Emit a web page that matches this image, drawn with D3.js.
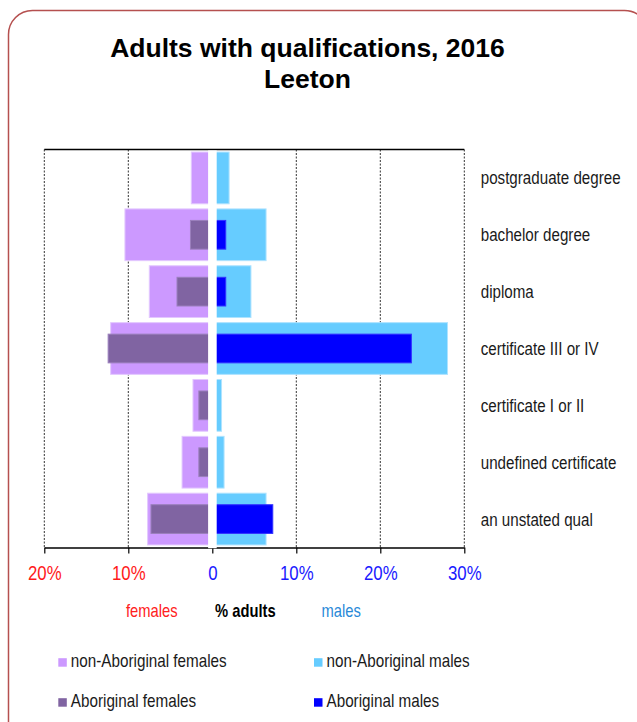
<!DOCTYPE html>
<html>
<head>
<meta charset="utf-8">
<script src="https://cdn.jsdelivr.net/npm/d3@7"></script>
<style>
  html, body { margin: 0; padding: 0; background: #fff; }
  svg { display: block; }
  .narrow { font-family: "Liberation Sans", Arial, sans-serif; }
</style>
</head>
<body>
<svg id="chart" width="637" height="722"></svg>
<script>
// Qualification categories, top to bottom
const categories = [
  "postgraduate degree",
  "bachelor degree",
  "diploma",
  "certificate III or IV",
  "certificate I or II",
  "undefined certificate",
  "an unstated qual"
];

// Percent of adults in each group
const nonAboriginalFemales = [2.5, 10.4, 7.5, 12.1, 2.3, 3.6, 7.7];
const aboriginalFemales    = [0,    2.6,  4.2, 12.4, 1.6, 1.6, 7.3];
const nonAboriginalMales   = [2.0,  6.4,  4.6, 28.0, 1.1, 1.4, 6.4];
const aboriginalMales      = [0,    1.6,  1.6, 23.7, 0,   0,   7.2];

// Axis ticks (negative = females side)
const tickValues = [-20, -10, 0, 10, 20, 30];
const tickLabels = ["20%", "10%", "0", "10%", "20%", "30%"];

const legendItems = [
  { label: "non-Aboriginal females", color: "#cc99ff", col: 0, row: 0 },
  { label: "non-Aboriginal males",   color: "#66ccff", col: 1, row: 0 },
  { label: "Aboriginal females",     color: "#8064a2", col: 0, row: 1 },
  { label: "Aboriginal males",       color: "#0000ff", col: 1, row: 1 }
];

// Condensed look: regular sans squeezed horizontally
const SQUEEZE = 0.82;
const narrowAt = (x, y) => `translate(${x},${y}) scale(${SQUEEZE},1)`;

const svg = d3.select("#chart");

// Rounded outer frame
svg.append("rect")
  .attr("x", 8.5).attr("y", 10.5)
  .attr("width", 640).attr("height", 800)
  .attr("rx", 24).attr("ry", 24)
  .attr("fill", "none")
  .attr("stroke", "#b5504f")
  .attr("stroke-width", 1.5);

// Title
const title = svg.append("text")
  .attr("text-anchor", "middle")
  .attr("font-family", "'Liberation Sans', Arial, sans-serif")
  .attr("font-weight", "bold")
  .attr("font-size", 26.5)
  .attr("fill", "#000");
title.append("tspan").attr("x", 307.5).attr("y", 57).text("Adults with qualifications, 2016");
title.append("tspan").attr("x", 307.5).attr("y", 88).text("Leeton");

const plotLeft = 44.3, plotRight = 464.3, plotTop = 149.5, plotBottom = 547.5;

const x = d3.scaleLinear().domain([-20, 30]).range([plotLeft, plotRight]);
const y = d3.scaleBand().domain(categories).range([plotTop, plotBottom]).paddingInner(0.09).paddingOuter(0.045);

const step = y.step();
const innerH = step * 0.505;

// Dashed gridlines
svg.append("g")
  .selectAll("line")
  .data(tickValues.filter(v => v !== 0))
  .join("line")
  .attr("x1", d => x(d)).attr("x2", d => x(d))
  .attr("y1", plotTop).attr("y2", plotBottom)
  .attr("stroke", "#333")
  .attr("stroke-width", 1)
  .attr("stroke-dasharray", "2,1.5");

const rows = categories.map((c, i) => ({
  cat: c,
  nf: nonAboriginalFemales[i],
  af: aboriginalFemales[i],
  nm: nonAboriginalMales[i],
  am: aboriginalMales[i]
}));

const bars = svg.append("g");

// Non-Aboriginal (wide) bars
bars.selectAll("rect.nf").data(rows.filter(d => d.nf > 0)).join("rect")
  .attr("class", "nf")
  .attr("x", d => x(-d.nf)).attr("width", d => x(0) - x(-d.nf))
  .attr("y", d => y(d.cat)).attr("height", y.bandwidth())
  .attr("fill", "#cc99ff").attr("stroke", "#e3c8ff").attr("stroke-width", 1);

bars.selectAll("rect.nm").data(rows.filter(d => d.nm > 0)).join("rect")
  .attr("class", "nm")
  .attr("x", x(0)).attr("width", d => x(d.nm) - x(0))
  .attr("y", d => y(d.cat)).attr("height", y.bandwidth())
  .attr("fill", "#66ccff").attr("stroke", "#aee3ff").attr("stroke-width", 1);

// Aboriginal (narrow) bars
bars.selectAll("rect.af").data(rows.filter(d => d.af > 0)).join("rect")
  .attr("class", "af")
  .attr("x", d => x(-d.af)).attr("width", d => x(0) - x(-d.af))
  .attr("y", d => y(d.cat) + y.bandwidth() / 2 - innerH / 2).attr("height", innerH)
  .attr("fill", "#8064a2").attr("stroke", "#9a7fbc").attr("stroke-width", 1);

bars.selectAll("rect.am").data(rows.filter(d => d.am > 0)).join("rect")
  .attr("class", "am")
  .attr("x", x(0)).attr("width", d => x(d.am) - x(0))
  .attr("y", d => y(d.cat) + y.bandwidth() / 2 - innerH / 2).attr("height", innerH)
  .attr("fill", "#0000ff").attr("stroke", "#3333ff").attr("stroke-width", 1);

// Top frame line
svg.append("line")
  .attr("x1", plotLeft).attr("x2", plotRight)
  .attr("y1", plotTop).attr("y2", plotTop)
  .attr("stroke", "#000").attr("stroke-width", 1.5);

// Bottom axis
const axis = d3.axisBottom(x)
  .tickValues(tickValues)
  .tickSize(6)
  .tickSizeOuter(0)
  .tickFormat((d, i) => tickLabels[i]);

const axisG = svg.append("g")
  .attr("transform", `translate(0,${plotBottom})`)
  .call(axis);
axisG.select(".domain").attr("stroke", "#000").attr("stroke-width", 1.3);
axisG.selectAll(".tick line").attr("stroke", "#000").attr("stroke-width", 1.2);
axisG.selectAll(".tick text")
  .attr("class", "narrow")
  .attr("font-family", null)
  .attr("font-size", 20.5)
  .attr("y", 0).attr("dy", 0)
  .attr("transform", narrowAt(0, 32.5))
  .attr("fill", d => d < 0 ? "#ff1a1a" : "#1a1aff");

// White separator between the two sides
svg.append("rect")
  .attr("x", x(0) - 4.2).attr("width", 8.6)
  .attr("y", plotTop + 1).attr("height", plotBottom - plotTop - 0.3)
  .attr("fill", "#fff");

// Category labels
svg.append("g")
  .selectAll("text")
  .data(categories)
  .join("text")
  .attr("class", "narrow")
  .attr("transform", d => narrowAt(480.7, y(d) + y.bandwidth() / 2 + 6.5))
  .attr("font-size", 18.5)
  .attr("fill", "#1a1a1a")
  .text(d => d);

// Axis caption
const cap = svg.append("g").attr("class", "narrow").attr("font-size", 18);
cap.append("text").attr("transform", narrowAt(126, 616.5)).attr("fill", "#ff2020").text("females");
cap.append("text").attr("transform", narrowAt(215, 616.5)).attr("fill", "#000").attr("font-weight", "bold").text("% adults");
cap.append("text").attr("transform", narrowAt(321.5, 616.5)).attr("fill", "#2a8ad8").text("males");

// Legend
const legend = svg.append("g")
  .selectAll("g")
  .data(legendItems)
  .join("g")
  .attr("transform", d => `translate(${d.col ? 314 : 58.3},${d.row ? 706.7 : 666.7})`);
legend.append("rect")
  .attr("x", 0).attr("y", -8.5)
  .attr("width", 8.5).attr("height", 8.5)
  .attr("fill", d => d.color);
legend.append("text")
  .attr("class", "narrow")
  .attr("transform", narrowAt(12.5, 0))
  .attr("font-size", 18.6)
  .attr("fill", "#1a1a1a")
  .text(d => d.label);
</script>
</body>
</html>
